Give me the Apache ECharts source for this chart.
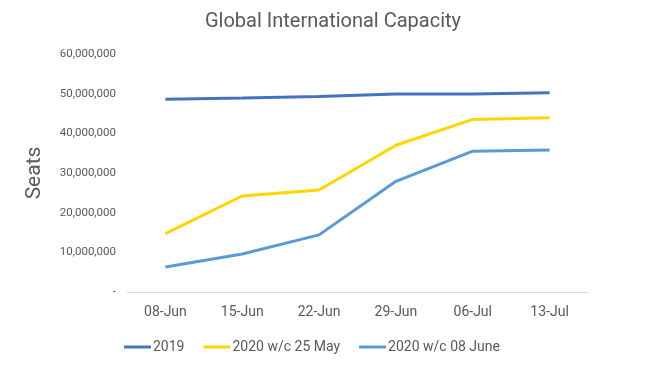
<!DOCTYPE html>
<html>
<head>
<meta charset="utf-8">
<script src="https://cdn.jsdelivr.net/npm/echarts@6/dist/echarts.min.js"></script>
<style>html,body{margin:0;padding:0;background:#fff}#c{width:666px;height:366px}</style>
</head>
<body>
<div id="c"></div>
<script>
var categories = ['08-Jun', '15-Jun', '22-Jun', '29-Jun', '06-Jul', '13-Jul'];
var s2019 = [48600000, 48900000, 49300000, 49900000, 49900000, 50200000];
var s2020May = [14700000, 24200000, 25700000, 37000000, 43500000, 43900000];
var s2020June = [6300000, 9600000, 14400000, 27900000, 35500000, 35800000];
var seriesNames = ['2019', '2020 w/c 25 May', '2020 w/c 08 June'];
var colors = ['#4472C4', '#FFD500', '#5B9BD5'];

var font = 'Roboto, "Liberation Sans", sans-serif';
var chart = echarts.init(document.getElementById('c'), null, {renderer: 'canvas'});
function fmt(v) {
  if (v === 0) return '-';
  return v.toString().replace(/\B(?=(\d{3})+(?!\d))/g, ',');
}
var data = [s2019, s2020May, s2020June];
chart.setOption({
  animation: false,
  color: colors,
  title: {
    text: 'Global International Capacity',
    left: 'center', top: 7,
    textStyle: {fontFamily: font, fontSize: 20, fontWeight: 'normal', color: '#595959'}
  },
  legend: {
    bottom: 7, left: 119,
    itemWidth: 27, itemHeight: 3, itemGap: 19,
    icon: 'rect',
    textStyle: {fontFamily: font, fontSize: 14, color: '#595959', padding: [0,0,0,-3]},
    data: seriesNames
  },
  grid: {left: 127, right: 78, top: 54, bottom: 74, containLabel: false},
  xAxis: {
    type: 'category', data: categories, boundaryGap: true,
    axisLine: {lineStyle: {color: '#D9D9D9', width: 1}},
    axisTick: {show: false},
    axisLabel: {fontFamily: font, fontSize: 14, color: '#595959', margin: 13}
  },
  yAxis: {
    type: 'value', min: 0, max: 60000000, interval: 10000000,
    name: 'Seats', nameLocation: 'middle', nameGap: 82, nameRotate: 90,
    nameTextStyle: {fontFamily: font, fontSize: 21, color: '#595959'},
    axisLine: {show: false}, axisTick: {show: false}, splitLine: {show: false},
    axisLabel: {fontFamily: font, fontSize: 11.5, color: '#595959', margin: 11, formatter: fmt}
  },
  series: data.map(function (d, i) {
    return {
      name: seriesNames[i], type: 'line', data: d,
      symbol: 'none', lineStyle: {width: 3, color: colors[i]},
      itemStyle: {color: colors[i]}
    };
  })
});
</script>
</body>
</html>
